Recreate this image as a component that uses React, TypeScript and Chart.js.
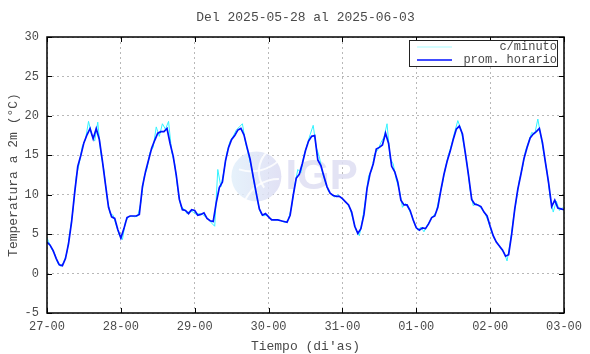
import React, { useEffect, useRef } from "react";
import { Chart, registerables } from "chart.js";

Chart.register(...registerables);

const TITLE = "Del 2025-05-28 al 2025-06-03";
const X_TITLE = "Tiempo (di'as)";
const Y_TITLE = "Temperatura a 2m (°C)";
const X_TICK_LABELS = ["27-00", "28-00", "29-00", "30-00", "31-00", "01-00", "02-00", "03-00"];
const SERIES_NAMES = ["c/minuto", "prom. horario"];

// hourly averages, hour 0 .. 168
const HOURLY_TEMPS = [
  4.0, 3.6, 2.9, 1.9, 1.1, 1.0, 1.9, 3.8, 6.6, 10.3, 13.6, 15.0, 16.6, 17.6, 18.4, 17.1, 18.4, 17.0, 14.3, 11.3, 8.4, 7.2, 7.0, 5.6,
  4.5, 5.7, 7.1, 7.3, 7.3, 7.3, 7.5, 11.0, 12.9, 14.4, 15.9, 16.9, 17.8, 18.0, 18.0, 18.4, 16.5, 14.9, 12.5, 9.4, 8.1, 8.0, 7.6, 8.1,
  8.0, 7.4, 7.5, 7.7, 7.0, 6.7, 6.6, 9.0, 10.9, 11.6, 14.3, 16.0, 17.0, 17.5, 18.2, 18.4, 17.6, 16.0, 14.5, 12.3, 10.2, 8.2, 7.4, 7.6,
  7.2, 6.8, 6.8, 6.8, 6.7, 6.6, 6.5, 7.4, 9.9, 12.1, 12.6, 14.0, 15.6, 16.8, 17.4, 17.5, 14.4, 13.7, 12.3, 11.0, 10.2, 9.9, 9.8, 9.8,
  9.5, 9.1, 8.7, 7.8, 6.0, 5.1, 5.7, 7.5, 10.8, 12.7, 13.9, 15.8, 16.0, 16.3, 17.8, 16.5, 13.6, 12.9, 11.6, 9.3, 8.7, 8.7, 8.0, 6.8,
  5.8, 5.5, 5.8, 5.7, 6.3, 7.1, 7.3, 8.4, 10.6, 12.6, 14.2, 15.5, 17.0, 18.3, 18.7, 17.7, 15.1, 12.4, 9.4, 8.8, 8.7, 8.5, 7.8, 7.3,
  6.0, 4.8, 4.0, 3.5, 3.0, 2.2, 2.4, 5.0, 8.2, 10.7, 12.6, 14.6, 16.0, 17.2, 17.7, 18.0, 18.4, 16.6, 14.0, 11.5, 8.5, 9.3, 8.3, 8.2, 8.1,
];

// per-minute readings, sampled: first at hour 0, then at each half hour (0.5, 1.5, ... 167.5)
const MINUTE_TEMPS = [
  4.5,
  4.1, 3.1, 2.5, 1.3, 0.9, 1.5, 2.7, 5.4, 8.2, 12.3, 14.0, 16.2, 17.0, 19.3, 17.6, 16.8, 19.2, 15.2, 13.1, 9.6, 7.6, 7.4, 6.1, 4.9,
  4.3, 6.6, 7.2, 7.3, 7.2, 7.3, 9.0, 12.2, 13.3, 15.4, 16.0, 18.6, 17.4, 19.0, 18.3, 19.3, 15.5, 13.9, 10.7, 8.5, 8.2, 7.6, 8.0, 7.8,
  7.5, 7.6, 7.5, 7.2, 6.9, 6.4, 6.0, 13.2, 11.0, 13.0, 15.4, 16.8, 17.4, 18.2, 18.6, 19.0, 16.6, 15.0, 13.3, 11.0, 9.0, 7.6, 7.3, 7.5,
  7.0, 6.8, 6.8, 6.8, 6.6, 6.5, 6.9, 8.5, 11.2, 13.2, 12.8, 15.0, 16.3, 17.6, 18.8, 16.0, 14.8, 12.8, 11.5, 10.4, 10.0, 9.7, 10.0, 9.6,
  9.3, 8.9, 8.2, 6.8, 5.5, 4.8, 6.8, 9.4, 12.4, 13.1, 15.2, 15.7, 16.6, 17.3, 19.0, 14.6, 13.9, 11.9, 10.6, 8.4, 8.9, 8.2, 7.4, 6.2,
  5.5, 5.9, 5.3, 6.1, 6.7, 7.3, 7.8, 9.8, 11.4, 13.5, 15.1, 16.4, 18.0, 19.4, 18.3, 16.2, 13.9, 10.6, 8.6, 8.9, 8.5, 8.1, 7.5, 6.5,
  5.2, 4.3, 3.8, 3.1, 2.7, 1.6, 3.9, 6.8, 9.3, 11.9, 13.4, 15.6, 16.7, 17.9, 17.7, 19.6, 17.4, 15.1, 12.9, 9.7, 7.8, 9.2, 8.0, 8.4,
];

const Y_MIN = -5;
const Y_MAX = 30;
const Y_STEP = 5;
const X_STEP_HOURS = 24;

const MONO = "'Liberation Mono', 'DejaVu Sans Mono', monospace";
const TEXT_COLOR = "#4a4a4a";
const CYAN = "#33f3ff";
const BLUE = "#0010ff";

const decorPlugin = {
  id: "decor",
  beforeDatasetsDraw(chart: any) {
    const { ctx, chartArea } = chart;
    ctx.save();
    ctx.beginPath();
    ctx.rect(chartArea.left, chartArea.top, chartArea.right - chartArea.left, chartArea.bottom - chartArea.top);
    ctx.clip();
    // watermark logo
    const cx = chartArea.left + (chartArea.right - chartArea.left) * 0.405;
    const cy = chartArea.top + (chartArea.bottom - chartArea.top) * 0.505;
    const r = 25;
    ctx.globalAlpha = 0.85;
    const g = ctx.createLinearGradient(cx - r, cy, cx + r, cy);
    g.addColorStop(0, "#e2f0fb");
    g.addColorStop(1, "#dcdcf3");
    ctx.fillStyle = g;
    ctx.beginPath();
    ctx.arc(cx, cy, r, 0, Math.PI * 2);
    ctx.fill();
    ctx.strokeStyle = "#ffffff";
    ctx.lineWidth = 2;
    ctx.beginPath();
    ctx.arc(cx + r * 1.2, cy - r * 0.2, r * 1.1, Math.PI * 0.8, Math.PI * 1.25);
    ctx.stroke();
    ctx.beginPath();
    ctx.arc(cx + r * 0.9, cy + r * 1.6, r * 1.5, Math.PI * 1.15, Math.PI * 1.5);
    ctx.stroke();
    ctx.beginPath();
    ctx.arc(cx - r * 0.2, cy - r * 1.8, r * 1.6, Math.PI * 0.25, Math.PI * 0.6);
    ctx.stroke();
    ctx.fillStyle = "#dedef2";
    ctx.font = "bold 42px 'Liberation Sans', Arial, sans-serif";
    ctx.textAlign = "left";
    ctx.textBaseline = "middle";
    ctx.fillText("IGP", cx + r + 4, cy + 1);
    ctx.restore();
  },
  afterDraw(chart: any) {
    const { ctx, chartArea, scales } = chart;
    const { left, right, top, bottom } = chartArea;
    ctx.save();
    // frame
    ctx.strokeStyle = "#000";
    ctx.lineWidth = 1.5;
    ctx.strokeRect(left, top, right - left, bottom - top);
    // inner tick marks
    ctx.lineWidth = 1;
    ctx.beginPath();
    const tl = 5;
    scales.y.ticks.forEach((t: any) => {
      const y = Math.round(scales.y.getPixelForValue(t.value)) + 0.5;
      ctx.moveTo(left, y);
      ctx.lineTo(left + tl, y);
      ctx.moveTo(right, y);
      ctx.lineTo(right - tl, y);
    });
    scales.x.ticks.forEach((t: any) => {
      const x = Math.round(scales.x.getPixelForValue(t.value)) + 0.5;
      ctx.moveTo(x, bottom);
      ctx.lineTo(x, bottom - tl);
      ctx.moveTo(x, top);
      ctx.lineTo(x, top + tl);
    });
    ctx.stroke();

    // title
    ctx.fillStyle = TEXT_COLOR;
    ctx.font = `13px ${MONO}`;
    ctx.textAlign = "center";
    ctx.textBaseline = "middle";
    ctx.fillText(TITLE, (left + right) / 2, 18);
    // x title
    ctx.fillText(X_TITLE, (left + right) / 2, 347);
    // y title
    ctx.save();
    ctx.translate(14, (top + bottom) / 2);
    ctx.rotate(-Math.PI / 2);
    ctx.fillText(Y_TITLE, 0, 0);
    ctx.restore();

    // legend
    const lx0 = 409.5, ly0 = 40.5, lx1 = 557.5, ly1 = 66.5;
    ctx.fillStyle = "#fff";
    ctx.fillRect(lx0, ly0, lx1 - lx0, ly1 - ly0);
    ctx.strokeStyle = "#222";
    ctx.lineWidth = 1;
    ctx.strokeRect(lx0, ly0, lx1 - lx0, ly1 - ly0);
    const rows = [
      { name: SERIES_NAMES[0], color: "#a8fbff", w: 1, y: 47 },
      { name: SERIES_NAMES[1], color: BLUE, w: 1.5, y: 60 },
    ];
    rows.forEach((row) => {
      ctx.strokeStyle = row.color;
      ctx.lineWidth = row.w;
      ctx.beginPath();
      ctx.moveTo(417, row.y);
      ctx.lineTo(452, row.y);
      ctx.stroke();
      ctx.fillStyle = TEXT_COLOR;
      ctx.textAlign = "right";
      ctx.font = `12px ${MONO}`;
      ctx.fillText(row.name, 557, row.y);
    });
    ctx.restore();
  },
};

export default function App() {
  const canvasRef = useRef<HTMLCanvasElement | null>(null);

  useEffect(() => {
    document.body.style.margin = "0";
    const canvas = canvasRef.current;
    if (!canvas) return;
    const hourlyPoints = HOURLY_TEMPS.map((v, i) => ({ x: i, y: v }));
    const minutePoints = MINUTE_TEMPS.map((v, i) => ({ x: i === 0 ? 0 : i - 0.5, y: v }));
    const chart = new Chart(canvas, {
      type: "line",
      data: {
        datasets: [
          {
            label: SERIES_NAMES[0],
            data: minutePoints,
            borderColor: CYAN,
            borderWidth: 1,
            pointRadius: 0,
            tension: 0,
            order: 2,
          },
          {
            label: SERIES_NAMES[1],
            data: hourlyPoints,
            borderColor: BLUE,
            borderWidth: 1.7,
            pointRadius: 0,
            tension: 0,
            order: 1,
          },
        ],
      },
      options: {
        animation: false,
        responsive: false,
        maintainAspectRatio: false,
        events: [],
        layout: { padding: { top: 37, right: 26, left: 0, bottom: 0 } },
        plugins: {
          legend: { display: false },
          title: { display: false },
          tooltip: { enabled: false },
        },
        scales: {
          x: {
            type: "linear",
            min: 0,
            max: (X_TICK_LABELS.length - 1) * X_STEP_HOURS,
            afterFit: (s: any) => {
              s.height = 41;
            },
            afterBuildTicks: (s: any) => {
              s.ticks = X_TICK_LABELS.map((_, i) => ({ value: i * X_STEP_HOURS }));
            },
            ticks: {
              color: TEXT_COLOR,
              font: { family: MONO, size: 12 },
              padding: 7,
              maxRotation: 0,
              autoSkip: false,
              callback: (v: any) => X_TICK_LABELS[Math.round(Number(v) / X_STEP_HOURS)] ?? "",
            },
            grid: { color: "#b8b8b8", lineWidth: 1, drawTicks: false },
            border: { display: false, dash: [2, 3] },
          },
          y: {
            type: "linear",
            min: Y_MIN,
            max: Y_MAX,
            afterFit: (s: any) => {
              s.width = 47;
            },
            ticks: {
              stepSize: Y_STEP,
              color: TEXT_COLOR,
              font: { family: MONO, size: 12 },
              padding: 8,
            },
            grid: { color: "#b8b8b8", lineWidth: 1, drawTicks: false },
            border: { display: false, dash: [2, 3] },
          },
        },
      },
      plugins: [decorPlugin],
    });
    return () => chart.destroy();
  }, []);

  return (
    <div style={{ position: "absolute", left: 0, top: 0, width: 590, height: 354, background: "#fff" }}>
      <canvas ref={canvasRef} width={590} height={354} style={{ width: 590, height: 354, display: "block" }} />
    </div>
  );
}
